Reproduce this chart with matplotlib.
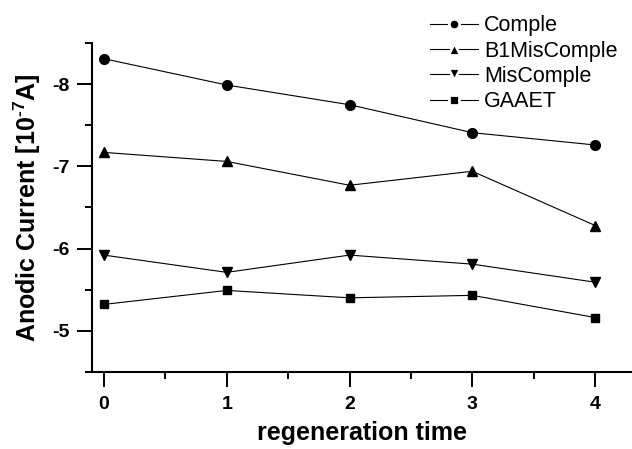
import matplotlib
matplotlib.use("Agg")
from matplotlib import pyplot as plt
from matplotlib.lines import Line2D
from matplotlib.ticker import MultipleLocator

# values
regen_time = [0, 1, 2, 3, 4]
comple = [-8.31, -7.99, -7.75, -7.41, -7.26]
b1_mis_comple = [-7.17, -7.06, -6.77, -6.94, -6.28]
mis_comple = [-5.92, -5.71, -5.92, -5.81, -5.59]
gaaet = [-5.32, -5.49, -5.40, -5.43, -5.16]

plt.rcParams['font.family'] = ['Liberation Sans', 'DejaVu Sans']
plt.rcParams['axes.unicode_minus'] = False
plt.rcParams['mathtext.fontset'] = 'custom'
plt.rcParams['mathtext.rm'] = 'Liberation Sans:bold'
plt.rcParams['mathtext.bf'] = 'Liberation Sans:bold'

fig = plt.figure(figsize=(6.32, 4.49), dpi=100)
ax = fig.add_axes([0.145, 0.172, 0.855, 0.732])

series = [
    (comple, 'o', 7, 7.5, 'Comple'),
    (b1_mis_comple, '^', 7.5, 8.5, 'B1MisComple'),
    (mis_comple, 'v', 7.5, 8.5, 'MisComple'),
    (gaaet, 's', 6, 7, 'GAAET'),
]
handles = []
for vals, mk, ms, ms_leg, name in series:
    ax.plot(regen_time, vals, color='black', lw=0.8, marker=mk, ms=ms)
    # legend key: marker with a small gap to the line on each side
    handles.append(Line2D([], [], color='black', lw=0.8, marker=mk,
                          ms=ms_leg, mfc='black', mec='white', mew=2.0,
                          label=name))

ax.set_xlim(-0.1, 4.3)
ax.set_ylim(-4.5, -8.5)
ax.xaxis.set_major_locator(MultipleLocator(1))
ax.xaxis.set_minor_locator(MultipleLocator(0.5))
ax.yaxis.set_major_locator(MultipleLocator(1))
ax.yaxis.set_minor_locator(MultipleLocator(0.5))

for side in ['top', 'right']:
    ax.spines[side].set_visible(False)
for side in ['left', 'bottom']:
    ax.spines[side].set_linewidth(1.5)

ax.tick_params(which='major', direction='out', length=10.5, width=1.4,
               labelsize=14)
ax.tick_params(which='minor', direction='out', length=5, width=1.4)
ax.tick_params(axis='y', which='major', pad=5)
ax.tick_params(axis='x', which='major', pad=7)
for lab in ax.get_xticklabels() + ax.get_yticklabels():
    lab.set_fontweight('bold')

ax.set_xlabel('regeneration time', fontsize=18, fontweight='bold', labelpad=6)
ax.set_ylabel(r'Anodic Current [10$^{\text{-}7}$A]', fontsize=18,
              fontweight='bold', labelpad=7)

ax.legend(handles=handles, loc='upper left', bbox_to_anchor=(0.680, 0.966),
          bbox_transform=fig.transFigure, frameon=False, fontsize=15.5,
          handlelength=2.23, handletextpad=0.28, labelspacing=0.2,
          borderpad=0, borderaxespad=0, markerscale=1)

plt.savefig('out.png', dpi=100)
